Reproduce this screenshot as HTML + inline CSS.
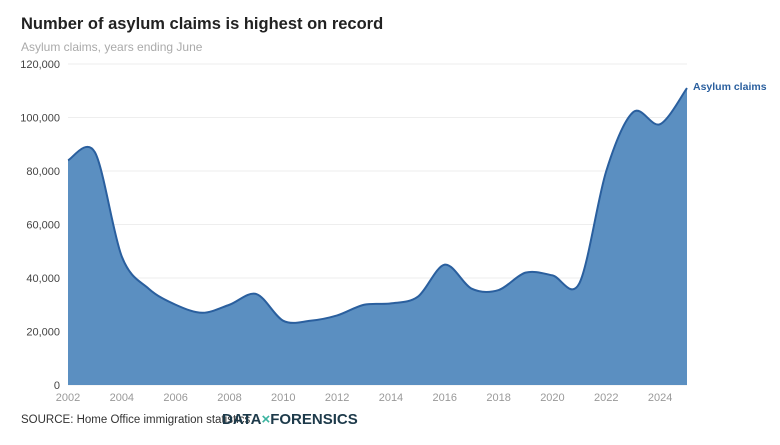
<!DOCTYPE html>
<html><head><meta charset="utf-8"><style>
body{margin:0;background:#fff;width:780px;height:440px;overflow:hidden;font-family:"Liberation Sans",sans-serif}
</style></head><body>
<svg width="780" height="440">
<text x="21" y="29" font-size="16.5" font-weight="bold" fill="#222">Number of asylum claims is highest on record</text>
<text x="21" y="51" font-size="12" fill="#aaa">Asylum claims, years ending June</text>
<g id="grid"></g><g id="area"></g><g id="xt"></g>
<text x="21" y="423" font-size="11.5" fill="#333">SOURCE: Home Office immigration statistics</text>
<text x="222" y="424" font-size="15" font-weight="bold" fill="#1d3a4a">DATA<tspan fill="#3cb4a0">×</tspan>FORENSICS</text>
</svg>
<script>
const years=[2002,2003,2004,2005,2006,2007,2008,2009,2010,2011,2012,2013,2014,2015,2016,2017,2018,2019,2020,2021,2022,2023,2024,2025];
const claims=[84000,87000,48000,36000,30000,27000,30000,34000,24000,24000,26000,30000,30500,33000,45000,36000,35500,42000,41000,38000,80000,102000,97500,111000];
const yTicks=[0,20000,40000,60000,80000,100000,120000];
const xTicks=[2002,2004,2006,2008,2010,2012,2014,2016,2018,2020,2022,2024];
const NS="http://www.w3.org/2000/svg";
const x=v=>68+(v-2002)*(687-68)/23, y=v=>385-v*(385-64)/120000;
const g=document.getElementById('grid');
yTicks.forEach(t=>{
 const l=document.createElementNS(NS,'line');l.setAttribute('x1',68);l.setAttribute('x2',687);l.setAttribute('y1',y(t));l.setAttribute('y2',y(t));l.setAttribute('stroke','#eee');
 
 
 g.appendChild(l);
 const tx=document.createElementNS(NS,'text');tx.setAttribute('x',60);tx.setAttribute('y',y(t)+4);tx.setAttribute('text-anchor','end');tx.setAttribute('font-size','11');tx.setAttribute('fill','#444');tx.textContent=t.toLocaleString('en-US');
 
 
 g.appendChild(tx);
});
const xt=document.getElementById('xt');
xTicks.forEach(t=>{
 const tx=document.createElementNS(NS,'text');tx.setAttribute('x',x(t));tx.setAttribute('y',401);tx.setAttribute('text-anchor','middle');tx.setAttribute('font-size','11');tx.setAttribute('fill','#999');tx.textContent=t;
 
 
 xt.appendChild(tx);
});
const P=years.map((yr,i)=>[x(yr),y(claims[i])]);
let d='M'+P[0][0]+','+P[0][1];
for(let i=0;i<P.length-1;i++){
 const p0=P[Math.max(i-1,0)],p1=P[i],p2=P[i+1],p3=P[Math.min(i+2,P.length-1)];
 const k=0.16;
 d+=` C${p1[0]+(p2[0]-p0[0])*k},${p1[1]+(p2[1]-p0[1])*k} ${p2[0]-(p3[0]-p1[0])*k},${p2[1]-(p3[1]-p1[1])*k} ${p2[0]},${p2[1]}`;
}
const a=document.getElementById('area');
const fill=document.createElementNS(NS,'path');
fill.setAttribute('d',d+` L${P[P.length-1][0]},385 L${P[0][0]},385Z`);fill.setAttribute('fill','#5b8fc1');


a.appendChild(fill);
const ln=document.createElementNS(NS,'path');
ln.setAttribute('d',d);ln.setAttribute('fill','none');ln.setAttribute('stroke','#2a5f9e');ln.setAttribute('stroke-width','2');


a.appendChild(ln);
const lab=document.createElementNS(NS,'text');
lab.setAttribute('x',P[P.length-1][0]+6);lab.setAttribute('y',P[P.length-1][1]+2);lab.setAttribute('font-size','10.5');lab.setAttribute('font-weight','bold');lab.setAttribute('fill','#2a5f9e');lab.textContent='Asylum claims';


a.appendChild(lab);
</script>
</body></html>
